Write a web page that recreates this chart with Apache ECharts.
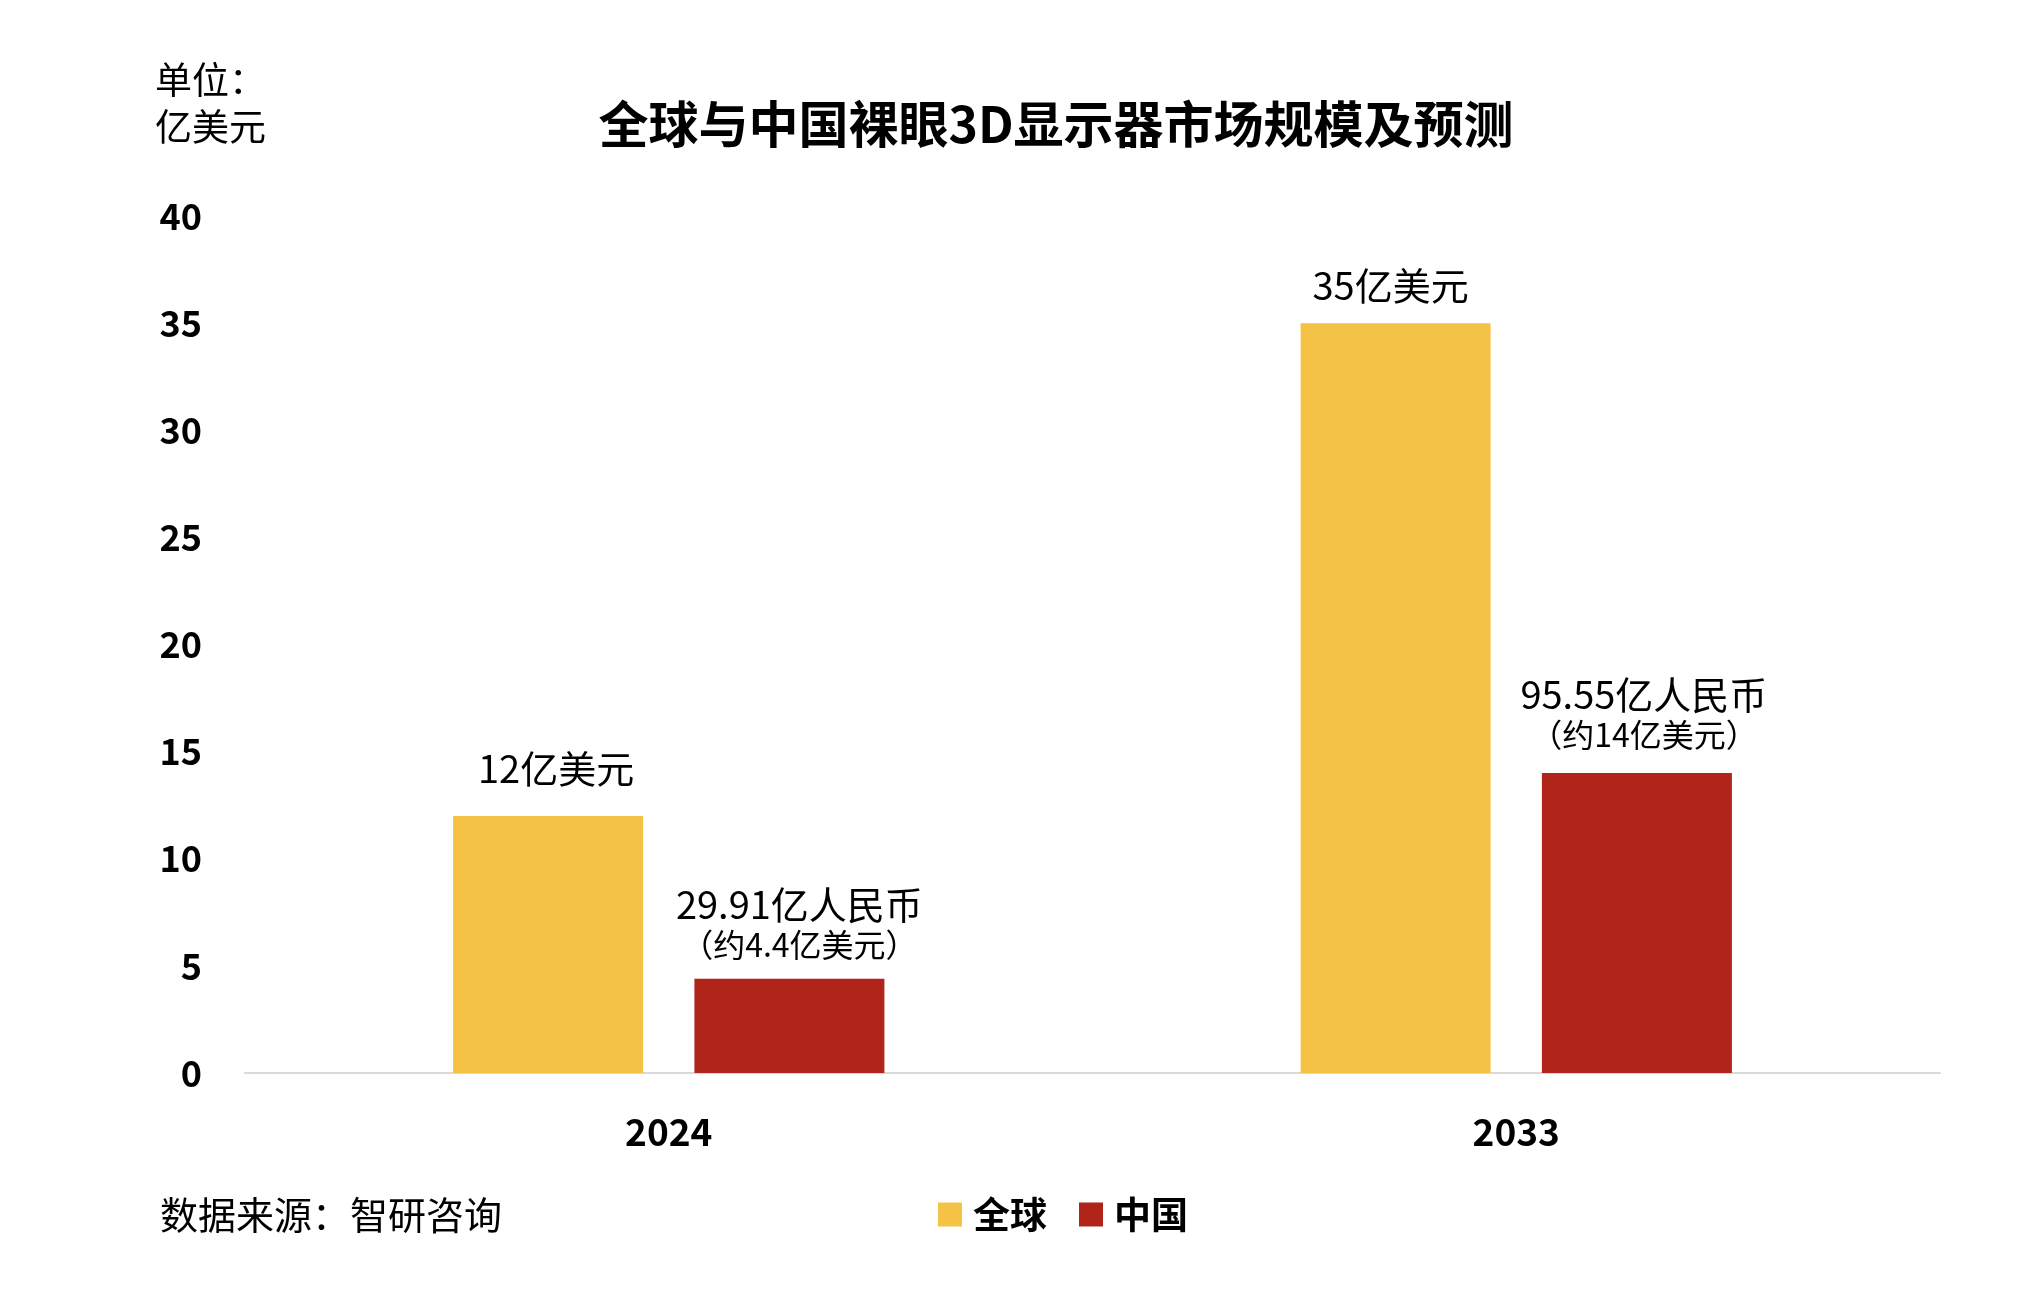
<!DOCTYPE html>
<html>
<head>
<meta charset="utf-8">
<script src="https://cdn.jsdelivr.net/npm/echarts@6/dist/echarts.min.js"></script>
<style>
  html, body { margin: 0; padding: 0; background: #fff; }
  #chart { width: 2044px; height: 1294px; }
</style>
</head>
<body>
<div id="chart"></div>
<script>
const FONT = '"Noto Sans CJK SC", "Noto Sans", sans-serif'

// data
const years = ['2024', '2033']
const globalValues = [12, 35]
const chinaValues = [4.4, 14]
const globalLabels = ['12亿美元', '35亿美元']
const chinaLabels = ['29.91亿人民币', '95.55亿人民币']
const chinaSubLabels = ['（约4.4亿美元）', '（约14亿美元）']
const yTicks = [0, 40, 5] // min, max, interval

// label gaps / nudges (hand placed in the original)
const globalGap = [25, 16]
const chinaGap = [15, 19]
const globalNudge = [8, -5]
const chinaNudge = [10, 7]

const chart = echarts.init(document.getElementById('chart'), null, { renderer: 'canvas' })

function txt(text, x, y, font, align) {
  return {
    type: 'text',
    x: x,
    y: y,
    style: {
      text: text,
      font: font,
      fill: '#000',
      textAlign: align || 'left',
      textVerticalAlign: 'middle',
      align: align || 'left',
      verticalAlign: 'middle'
    }
  }
}

const option = {
  backgroundColor: '#ffffff',
  animation: false,
  textStyle: { fontFamily: FONT },
  graphic: [
    txt('全球与中国裸眼3D显示器市场规模及预测', 1056, 124, 'bold 50px ' + FONT, 'center'),
    txt('单位：', 155, 80, '37px ' + FONT),
    txt('亿美元', 155, 127, '37px ' + FONT),
    txt('数据来源：智研咨询', 160, 1215, '38px ' + FONT)
  ],
  legend: {
    left: 933,
    top: 1191,
    itemWidth: 24,
    itemHeight: 24,
    itemGap: 32,
    icon: 'rect',
    textStyle: {
      fontFamily: FONT,
      fontSize: 37,
      fontWeight: 'bold',
      color: '#000',
      padding: [0, 0, 0, 6]
    },
    data: ['全球', '中国']
  },
  grid: {
    left: 245,
    right: 104,
    top: 216,
    bottom: 221
  },
  xAxis: {
    type: 'category',
    data: years,
    axisLine: { lineStyle: { color: '#d9d9d9', width: 2 } },
    axisTick: { show: false },
    axisLabel: {
      margin: 40,
      fontFamily: FONT,
      fontSize: 37,
      fontWeight: 'bold',
      color: '#000'
    }
  },
  yAxis: {
    type: 'value',
    min: yTicks[0],
    max: yTicks[1],
    interval: yTicks[2],
    splitLine: { show: false },
    axisLine: { show: false },
    axisTick: { show: false },
    axisLabel: {
      margin: 43,
      fontFamily: FONT,
      fontSize: 36,
      fontWeight: 'bold',
      color: '#000'
    }
  },
  series: [
    {
      name: '全球',
      type: 'bar',
      data: globalValues.map((v, i) => ({
        value: v,
        label: { distance: globalGap[i], offset: [globalNudge[i], 0] }
      })),
      barWidth: 190,
      barGap: '27%',
      itemStyle: { color: '#F4C244' },
      label: {
        show: true,
        position: 'top',
        fontFamily: FONT,
        fontSize: 38,
        lineHeight: 44,
        color: '#000',
        formatter: (p) => globalLabels[p.dataIndex]
      }
    },
    {
      name: '中国',
      type: 'bar',
      data: chinaValues.map((v, i) => ({
        value: v,
        label: { distance: chinaGap[i], offset: [chinaNudge[i], 0] }
      })),
      barWidth: 190,
      itemStyle: { color: '#B0241A' },
      label: {
        show: true,
        position: 'top',
        color: '#000',
        formatter: (p) => '{a|' + chinaLabels[p.dataIndex] + '}\n{b|' + chinaSubLabels[p.dataIndex] + '}',
        rich: {
          a: { fontFamily: FONT, fontSize: 38, lineHeight: 42, color: '#000' },
          b: { fontFamily: FONT, fontSize: 32, lineHeight: 38, color: '#000' }
        }
      }
    }
  ]
}

chart.setOption(option)
</script>
</body>
</html>
